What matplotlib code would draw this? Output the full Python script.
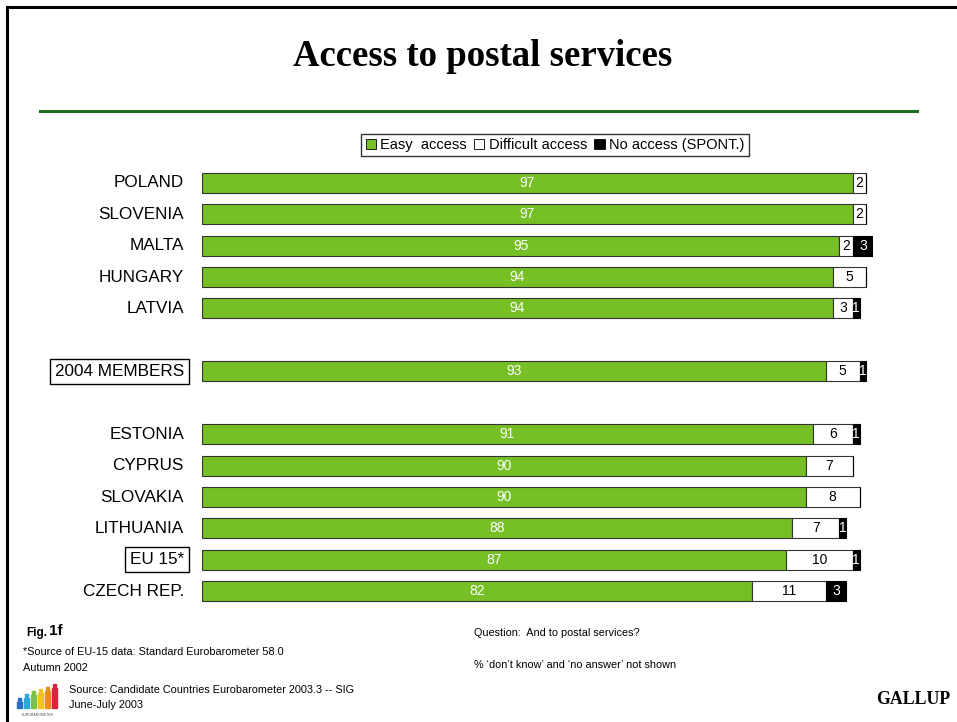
"""
Access to postal services - candidate countries, stacked horizontal bars
"""

import matplotlib.pyplot as plt
from matplotlib.patches import Rectangle
from matplotlib.lines import Line2D

# ─── DATA ─────────────────────────────────────────────────────────────────────
countries = ['POLAND', 'SLOVENIA', 'MALTA', 'HUNGARY', 'LATVIA',
             '2004 MEMBERS',
             'ESTONIA', 'CYPRUS', 'SLOVAKIA', 'LITHUANIA', 'EU 15*', 'CZECH REP.']
row_pos = [0, 1, 2, 3, 4, 6, 8, 9, 10, 11, 12, 13]
easy = [97, 97, 95, 94, 94, 93, 91, 90, 90, 88, 87, 82]
difficult = [2, 2, 2, 5, 3, 5, 6, 7, 8, 7, 10, 11]
no_access = [0, 0, 3, 0, 1, 1, 1, 0, 0, 1, 1, 3]
boxed = ['2004 MEMBERS', 'EU 15*']

legend_labels = ['Easy  access', 'Difficult access', 'No access (SPONT.)']

GREEN = '#76C025'

W, H = 957, 722
fig = plt.figure(figsize=(W / 100, H / 100), dpi=100)

# ─── FRAME, TITLE, RULE ───────────────────────────────────────────────────────
fig.add_artist(Line2D([7 / W, 7 / W], [0, 1 - 7 / H], color='black', lw=2.2))
fig.add_artist(Line2D([7 / W, 1], [1 - 7 / H, 1 - 7 / H], color='black', lw=2.2))
fig.text(483 / W, 1 - 57 / H, 'Access to postal services', ha='center', va='center',
         family='Liberation Serif', fontweight='bold', fontsize=26.5)
fig.add_artist(Line2D([40 / W, 917 / W], [1 - 111 / H, 1 - 111 / H],
                      color='#1E6E1E', lw=2.2))

# ─── BARS ─────────────────────────────────────────────────────────────────────
ax = fig.add_axes([202 / W, 1 - 607 / H, 671 / W, 440 / H])
ax.set_xlim(0, 100)
ax.set_ylim(13.5, -0.5)
ax.axis('off')

bh = 0.64
left2 = [e + d for e, d in zip(easy, difficult)]
ax.barh(row_pos, easy, height=bh, color=GREEN, edgecolor='#333333', lw=0.8)
ax.barh(row_pos, difficult, left=easy, height=bh, color='white',
        edgecolor='#333333', lw=0.8)
ax.barh(row_pos, no_access, left=left2, height=bh, color='black',
        edgecolor='black', lw=0.8)

for y, e, d, n, name in zip(row_pos, easy, difficult, no_access, countries):
    ax.text(e / 2, y, str(e), ha='center', va='center', color='white', fontsize=10,
            family='Liberation Sans')
    ax.text(e + d / 2, y, str(d), ha='center', va='center', color='black',
            fontsize=10, family='Liberation Sans')
    if n:
        ax.text(e + d + n / 2, y, str(n), ha='center', va='center', color='white',
                fontsize=10, family='Liberation Sans')
    kw = {}
    if name in boxed:
        kw['bbox'] = dict(boxstyle='square,pad=0.3', fc='white', ec='black', lw=1)
    ax.text(-2.7, y, name, ha='right', va='center', fontsize=12.3,
            family='Liberation Sans', **kw)

# ─── LEGEND ───────────────────────────────────────────────────────────────────
handles = [Rectangle((0, 0), 1, 1, fc=GREEN, ec='black', lw=0.6),
           Rectangle((0, 0), 1, 1, fc='white', ec='black', lw=0.6),
           Rectangle((0, 0), 1, 1, fc='black', ec='black', lw=0.6)]
leg = fig.legend(handles, legend_labels, loc='center', ncol=3,
                 bbox_to_anchor=(555 / W, 1 - 145 / H),
                 prop={'family': 'Liberation Sans', 'size': 10.5},
                 frameon=True, fancybox=False, edgecolor='black',
                 handlelength=0.7, handleheight=0.7, handletextpad=0.3,
                 columnspacing=0.5, borderpad=0.3, borderaxespad=0)
leg.get_frame().set_linewidth(1)

# ─── FOOTER ───────────────────────────────────────────────────────────────────
sans = 'Liberation Sans'
fs = 7.8
fig.text(26 / W, 1 - 633 / H, 'Fig.', fontsize=8.5, fontweight='bold', family=sans,
         va='center')
fig.text(49 / W, 1 - 631 / H, '1f', fontsize=11, fontweight='bold', family=sans,
         va='center')
fig.text(23 / W, 1 - 652 / H, '*Source of EU-15 data: Standard Eurobarometer 58.0',
         fontsize=fs, family=sans, va='center')
fig.text(23 / W, 1 - 668 / H, 'Autumn 2002', fontsize=fs, family=sans, va='center')
fig.text(69 / W, 1 - 690 / H, 'Source: Candidate Countries Eurobarometer 2003.3 -- SIG',
         fontsize=fs, family=sans, va='center')
fig.text(69 / W, 1 - 705 / H, 'June-July 2003', fontsize=fs, family=sans, va='center')
fig.text(474 / W, 1 - 633 / H, 'Question:  And to postal services?',
         fontsize=fs, family=sans, va='center')
fig.text(474 / W, 1 - 665 / H, "% \u2018don\u2019t know\u2019 and \u2018no answer\u2019 not shown",
         fontsize=fs, family=sans, va='center')
fig.text(950 / W, 1 - 700 / H, 'GALLUP', ha='right', va='center', fontsize=12.8,
         fontweight='bold', family='Liberation Serif')

# small Eurobarometer logo: coloured figures
logo = fig.add_axes([14 / W, 1 - 716 / H, 48 / W, 34 / H])
logo.set_xlim(0, 48)
logo.set_ylim(34, 0)
logo.axis('off')
logo_cols = ['#2B6CC4', '#2FA8D8', '#7CC242', '#F2C318', '#F08A1C', '#D7263D']
logo_tops = [16, 12, 9, 7, 5, 2]
for i, (c, t) in enumerate(zip(logo_cols, logo_tops)):
    x0 = 3 + i * 7
    logo.add_patch(Rectangle((x0, t + 4), 5, 26 - t - 4, color=c))
    logo.add_patch(Rectangle((x0 + 1, t), 3, 3, color=c))
logo.text(24, 33, 'EUROBAROMETER', ha='center', va='center', fontsize=2.5,
          family=sans, color='#555555')

plt.savefig('out.png', dpi=100)
plt.close()
